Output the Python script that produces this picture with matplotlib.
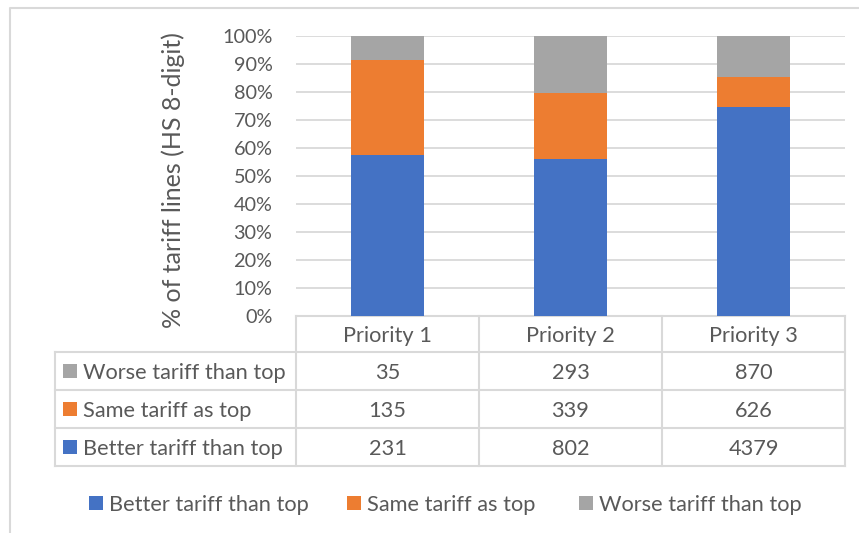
import matplotlib
matplotlib.use("Agg")
import matplotlib.pyplot as plt
from matplotlib.patches import Rectangle
import numpy as np

# Data: number of HS 8-digit tariff lines per priority group
categories = ["Priority 1", "Priority 2", "Priority 3"]
series_names = ["Better tariff than top", "Same tariff as top", "Worse tariff than top"]
better = [231, 802, 4379]
same = [135, 339, 626]
worse = [35, 293, 870]
y_ticks = [0, 10, 20, 30, 40, 50, 60, 70, 80, 90, 100]
y_label = "% of tariff lines (HS 8-digit)"

colors = ["#4472C4", "#ED7D31", "#A5A5A5"]
TEXT = "#595959"
GRID = "#D9D9D9"
FS = 15.7
FS_TICK = 14.3
FS_TITLE = 18

plt.rcParams["font.family"] = ["Lato", "DejaVu Sans"]

W, H = 859, 533
fig = plt.figure(figsize=(W / 100, H / 100), dpi=100)

# pixel-space layer for the frame, data table and legend
ov = fig.add_axes([0, 0, 1, 1])
ov.set_xlim(0, W)
ov.set_ylim(H, 0)
ov.axis("off")

# chart frame
ov.plot([9.5, 9.5, W], [H, 7.5, 7.5], color=GRID, lw=1.5, solid_capstyle="butt")

# plot area
x0, x1 = 296, 845
y_top, y_bot = 36, 316
ax = fig.add_axes([x0 / W, 1 - y_bot / H, (x1 - x0) / W, (y_bot - y_top) / H])
ax.set_facecolor("none")

counts = np.array([better, same, worse], dtype=float)
shares = counts / counts.sum(axis=0) * 100
xs = np.arange(len(categories))
bottom = np.zeros(len(categories))
for vals, col in zip(shares, colors):
    ax.bar(xs, vals, width=0.4, bottom=bottom, color=col, zorder=3)
    bottom += vals

ax.set_xlim(-0.5, len(categories) - 0.5)
ax.set_ylim(0, 100)
ax.set_yticks(y_ticks)
ax.set_yticklabels([f"{t}%" for t in y_ticks])
ax.yaxis.grid(True, color=GRID, lw=1.3, zorder=0)
for s in ax.spines.values():
    s.set_visible(False)
ax.tick_params(axis="y", length=0, pad=17, labelsize=FS_TICK, labelcolor=TEXT)
ax.set_xticks(xs)
ax.set_xticklabels(categories)
ax.tick_params(axis="x", length=0, pad=7, labelsize=FS, labelcolor=TEXT)

fig.text(173 / W, 1 - 180 / H, y_label, rotation=90, ha="center", va="center",
         fontsize=FS_TITLE, color=TEXT)

# data table below the plot
rows = [316, 352, 390, 428, 466]
col_x = [x0 + (x1 - x0) * i / len(categories) for i in range(len(categories) + 1)]
left_x = 55
lw_t = 1.5
# horizontal lines
ov.plot([x0, x1], [rows[0], rows[0]], color=GRID, lw=lw_t)
for y in rows[1:]:
    ov.plot([left_x, x1], [y, y], color=GRID, lw=lw_t)
# vertical lines
ov.plot([left_x, left_x], [rows[1], rows[-1]], color=GRID, lw=lw_t)
for x in col_x:
    ov.plot([x, x], [rows[0], rows[-1]], color=GRID, lw=lw_t)

table_series = [(series_names[2], worse, colors[2]),
                (series_names[1], same, colors[1]),
                (series_names[0], better, colors[0])]
key = 14
for i, (name, vals, col) in enumerate(table_series):
    yc = (rows[i + 1] + rows[i + 2]) / 2
    ov.add_patch(Rectangle((63, yc - key / 2), key, key, color=col, lw=0))
    ov.text(83, yc, name, ha="left", va="center_baseline", fontsize=FS, color=TEXT)
    for j, v in enumerate(vals):
        ov.text((col_x[j] + col_x[j + 1]) / 2, yc, str(v), ha="center",
                va="center_baseline", fontsize=FS, color=TEXT)

# legend
leg_y = 503
leg_x = [89, 347, 579]
for name, col, lx in zip(series_names, colors, leg_x):
    ov.add_patch(Rectangle((lx, leg_y - key / 2), key, key, color=col, lw=0))
    ov.text(lx + 20, leg_y, name, ha="left", va="center_baseline", fontsize=FS, color=TEXT)

fig.savefig("out.png", dpi=100)
